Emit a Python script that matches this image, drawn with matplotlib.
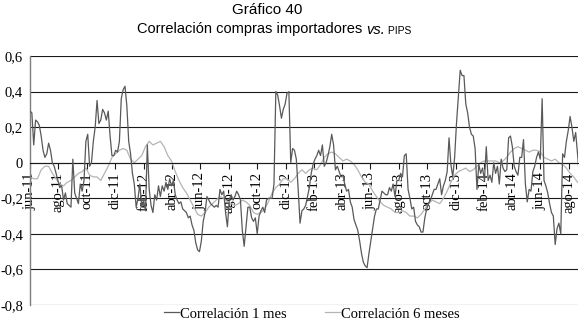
import matplotlib
matplotlib.use('Agg')
import matplotlib.pyplot as plt
import pandas as pd
import numpy as np

# ---------------- data ----------------
corr_1m = [
    0.29, 0.28, 0.10, 0.24, 0.23, 0.21, 0.15, 0.07, 0.03, 0.05,
    0.11, 0.07, 0.00, -0.02, -0.06, -0.10, -0.14, -0.13, -0.21, -0.17,
    -0.23, -0.24, -0.25, 0.02, -0.17, -0.20, -0.23, -0.12, -0.16, -0.10,
    0.12, 0.16, -0.02, 0.00, 0.12, 0.20, 0.35, 0.22, 0.24, 0.30,
    0.28, 0.24, 0.29, 0.15, 0.04, 0.04, 0.07, 0.06, 0.12, 0.36,
    0.41, 0.43, 0.32, 0.12, 0.05, -0.06, -0.12, -0.25, -0.20, -0.12,
    -0.25, -0.21, -0.27, 0.10, -0.15, -0.24, -0.28, -0.18, -0.21, -0.13,
    -0.19, -0.13, -0.16, -0.11, -0.15, -0.09, -0.13, -0.10, -0.18, -0.21,
    -0.23, -0.22, -0.26, -0.27, -0.28, -0.31, -0.30, -0.35, -0.38, -0.45,
    -0.49, -0.50, -0.44, -0.33, -0.28, -0.19, -0.21, -0.23, -0.24, -0.25,
    -0.24, -0.25, -0.15, -0.18, -0.16, -0.28, -0.36, -0.21, -0.18, -0.21,
    -0.19, -0.16, -0.18, -0.21, -0.38, -0.47, -0.36, -0.25, -0.25, -0.31,
    -0.33, -0.31, -0.40, -0.30, -0.27, -0.25, -0.28, -0.21, -0.20, -0.20,
    -0.20, -0.12, 0.40, 0.38, 0.32, 0.25, 0.30, 0.33, 0.39, 0.40,
    0.00, 0.08, 0.07, 0.02, -0.15, -0.34, -0.27, -0.26, -0.24, -0.19,
    -0.14, -0.06, -0.01, 0.02, 0.04, 0.07, 0.04, 0.10, -0.02, 0.00,
    0.04, 0.09, 0.16, 0.10, -0.04, -0.02, -0.05, -0.08, -0.07, -0.12,
    -0.16, -0.15, -0.22, -0.25, -0.32, -0.35, -0.38, -0.44, -0.51, -0.56,
    -0.58, -0.59, -0.51, -0.44, -0.37, -0.30, -0.26, -0.26, -0.21, -0.16,
    -0.17, -0.18, -0.18, -0.14, -0.16, -0.12, -0.19, -0.10, -0.10, -0.06,
    -0.08, 0.04, 0.05, -0.15, -0.20, -0.26, -0.25, -0.33, -0.35, -0.36,
    -0.39, -0.39, -0.31, -0.26, -0.23, -0.21, -0.18, -0.15, -0.15, -0.12,
    -0.09, -0.18, -0.13, -0.10, -0.05, 0.14, -0.01, -0.08, 0.03, 0.22,
    0.37, 0.52, 0.49, 0.49, 0.33, 0.28, 0.20, 0.16, 0.15, 0.08,
    -0.15, -0.01, -0.06, -0.03, -0.10, 0.09, -0.10, -0.07, -0.11, 0.00,
    -0.06, -0.02, -0.12, 0.02, -0.03, -0.05, -0.04, 0.14, 0.15, 0.09,
    -0.02, -0.05, -0.07, 0.03, 0.03, 0.13, -0.12, -0.22, -0.15, -0.16,
    -0.05, -0.02, 0.03, 0.06, 0.02, 0.36, -0.10, -0.13, -0.17, -0.23,
    -0.28, -0.30, -0.46, -0.37, -0.34, -0.40, 0.05, 0.03, 0.12, 0.18,
    0.26, 0.20, 0.12, 0.17, 0.05, -0.08,
]

corr_6m = [
    -0.08, -0.09, -0.09, -0.04, -0.02, -0.02, -0.06, -0.09, -0.12, -0.13,
    -0.11, -0.10, -0.08, -0.06, -0.05, -0.03, -0.07, -0.08, -0.08, -0.10,
    -0.06, -0.02, 0.03, 0.05, 0.07, 0.08, 0.07, 0.02, 0.00, 0.02,
    0.04, 0.09, 0.12, 0.10, 0.11, 0.12, 0.09, 0.04, 0.01, -0.05,
    -0.10, -0.14, -0.17, -0.21, -0.25, -0.29, -0.30, -0.28, -0.25, -0.23,
    -0.21, -0.19, -0.20, -0.22, -0.23, -0.24, -0.23, -0.21, -0.22, -0.24,
    -0.28, -0.29, -0.28, -0.26, -0.22, -0.17, -0.14, -0.12, -0.09, -0.09,
    -0.11, -0.09, -0.06, -0.04, -0.06, -0.04, -0.03, -0.04, -0.01, 0.03,
    0.05, 0.06, 0.05, 0.03, 0.01, 0.02, 0.01, -0.01, -0.04, -0.08,
    -0.11, -0.12, -0.16, -0.19, -0.22, -0.24, -0.25, -0.26, -0.28, -0.28,
    -0.27, -0.28, -0.30, -0.30, -0.31, -0.29, -0.26, -0.23, -0.21, -0.22,
    -0.23, -0.20, -0.16, -0.11, -0.07, -0.05, -0.04, -0.03, -0.05, -0.04,
    -0.02, 0.00, 0.01, 0.01, 0.01, 0.01, 0.00, 0.01, 0.03, 0.06,
    0.08, 0.09, 0.08, 0.07, 0.06, 0.07, 0.07, 0.06, 0.03, 0.02,
    0.01, 0.02, 0.00, -0.01, -0.03, -0.06, -0.08, -0.11,
]

start_date = '2011-06-01'
end_date = '2014-08-21'
tick_labels = ['jun-11', 'ago-11', 'oct-11', 'dic-11', 'feb-12', 'abr-12',
               'jun-12', 'ago-12', 'oct-12', 'dic-12', 'feb-13', 'abr-13',
               'jun-13', 'ago-13', 'oct-13', 'dic-13', 'feb-14', 'abr-14',
               'jun-14', 'ago-14']
y_ticks = [0.6, 0.4, 0.2, 0.0, -0.2, -0.4, -0.6, -0.8]
y_labels = ['0,6', '0,4', '0,2', '0', '-0,2', '-0,4', '-0,6', '-0,8']
series_names = ['Correlación 1 mes', 'Correlación 6 meses']

dates_1m = pd.date_range(start_date, periods=len(corr_1m), freq='4D')
dates_6m = pd.date_range(start_date, periods=len(corr_6m), freq='8D')
tick_dates = pd.date_range(start_date, periods=len(tick_labels), freq='2MS')

# ---------------- figure ----------------
SERIF = ['Liberation Serif', 'DejaVu Serif']
SANS = ['Liberation Sans', 'DejaVu Sans']
W, H = 579, 324
fig = plt.figure(figsize=(W / 100, H / 100), dpi=100)
ax = fig.add_axes([30 / W, 1 - 305 / H, 548 / W, 249 / H])

for yv in y_ticks:
    ax.axhline(yv, color='#1a1a1a', lw=0.8, zorder=1)

ax.plot(dates_6m, corr_6m, color='#b4b4b4', lw=0.9, zorder=2, label=series_names[1])
ax.plot(dates_1m, corr_1m, color='#595959', lw=0.9, zorder=3, label=series_names[0])

ax.set_xlim(pd.Timestamp(start_date), pd.Timestamp(end_date))
ax.set_ylim(-0.8, 0.6)

for s in ['top', 'right']:
    ax.spines[s].set_visible(False)
ax.spines['left'].set_color('#7f7f7f')
ax.spines['left'].set_linewidth(1.0)
ax.spines['bottom'].set_position(('data', 0))
ax.spines['bottom'].set_color('#1a1a1a')
ax.spines['bottom'].set_linewidth(0.8)

ax.set_xticks(tick_dates)
ax.set_xticklabels(tick_labels, rotation=90, ha='center', va='top',
                   family=SERIF, fontsize=10.5)
ax.tick_params(axis='x', direction='out', length=4, width=0.8, color='#1a1a1a', pad=3)
ax.set_yticks(y_ticks)
ax.set_yticklabels(y_labels, family=SERIF, fontsize=10.5)
ax.tick_params(axis='y', length=0, pad=5)

# legend
h1 = ax.lines[-1]
h2 = ax.lines[-2]
fig.legend([h1, h2], series_names, loc='center', bbox_to_anchor=(312 / W, 1 - 314 / H),
           ncol=2, frameon=False, prop={'family': SERIF, 'size': 10.5},
           handlelength=1.0, handletextpad=0.1, columnspacing=2.6,
           borderpad=0, borderaxespad=0)

# titles
fig.text(267 / W, 1 - 14.5 / H, 'Gráfico 40', ha='center', va='baseline',
         family=SANS, fontsize=11)
fig.canvas.draw()
r = fig.canvas.get_renderer()
parts = [('Correlación compras importadores ', 10.5, 'normal'),
         ('vs.', 10.5, 'italic'),
         (' PIPS', 7.5, 'normal')]
texts = []
widths = []
for s, fs, st in parts:
    t = fig.text(0, 1 - 33.5 / H, s, ha='left', va='baseline', family=SANS,
                 fontsize=fs, style=st)
    texts.append(t)
    widths.append(t.get_window_extent(r).width)
total = sum(widths)
x0 = 274 - total / 2
for t, w in zip(texts, widths):
    t.set_x(x0 / W)
    x0 += w

fig.savefig('out.png', dpi=100)
